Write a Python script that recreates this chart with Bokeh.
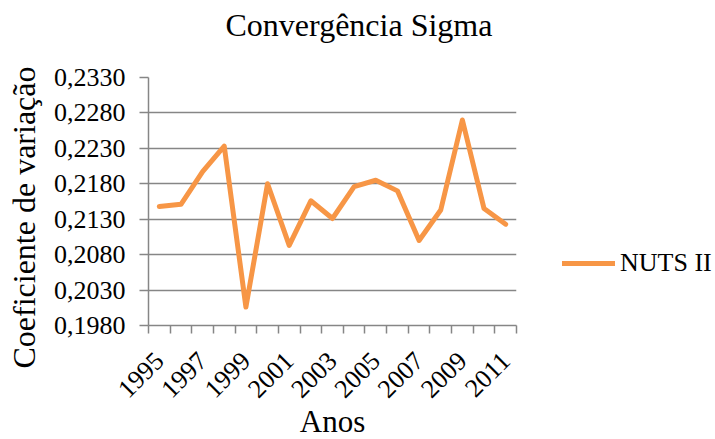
from bokeh.plotting import figure
from bokeh.models import (Range1d, FixedTicker, CustomJSTickFormatter, Legend, LegendItem, Title)
from bokeh.embed import file_html
from bokeh.resources import INLINE
import math

# ---- data ----
years = [1995, 1996, 1997, 1998, 1999, 2000, 2001, 2002, 2003,
         2004, 2005, 2006, 2007, 2008, 2009, 2010, 2011]
nuts2 = [0.2148, 0.2151, 0.2197, 0.2233, 0.2006, 0.2180, 0.2093, 0.2156, 0.2131,
         0.2176, 0.2185, 0.2170, 0.2100, 0.2143, 0.2270, 0.2145, 0.2123]
y_ticks = [0.1980, 0.2030, 0.2080, 0.2130, 0.2180, 0.2230, 0.2280, 0.2330]
x_label_years = [y for y in years if y % 2 == 1]
title_text = "Convergência Sigma"
y_title = "Coeficiente de variação"
x_title = "Anos"
series_name = "NUTS II"

FONT = "Liberation Serif"
GRAY = "#868686"
ORANGE = "#F79646"

p = figure(frame_width=368, frame_height=248,
           min_border_left=148, min_border_right=199,
           min_border_top=77, min_border_bottom=114,
           x_range=Range1d(years[0] - 0.5, years[-1] + 0.5),
           y_range=Range1d(y_ticks[0], y_ticks[-1]),
           output_backend="svg", toolbar_location=None,
           background_fill_color="white", border_fill_color="white",
           title=None)
p.outline_line_color = None

xa = p.below[0]
ya = p.left[0]

# invisible spacer next to the frame, then the title itself (outermost)
p.add_layout(Title(text="\u200b", text_font=FONT, text_font_size="2px",
                   standoff=31, text_color="white"), "above")
p.add_layout(Title(text=title_text, align="left", offset=77,
                   vertical_align="bottom", standoff=0,
                   text_font=FONT, text_font_size="32px",
                   text_font_style="normal", text_color="black"), "above")

# x axis: tick marks at category boundaries (minor), labels at odd years (major)
boundaries = [y - 0.5 for y in years] + [years[-1] + 0.5]
xa.ticker = FixedTicker(ticks=x_label_years, minor_ticks=boundaries)
xa.major_label_overrides = {y: str(y) for y in x_label_years}
xa.major_tick_out = 0
xa.major_tick_in = 0
xa.minor_tick_out = 8
xa.minor_tick_in = 0
xa.minor_tick_line_color = GRAY
xa.minor_tick_line_width = 1.5
xa.axis_line_color = GRAY
xa.axis_line_width = 1.5
xa.major_label_orientation = math.pi / 4
xa.major_label_standoff = 23
xa.major_label_text_font = FONT
xa.major_label_text_font_size = "26px"
xa.major_label_text_color = "black"
xa.axis_label = x_title
xa.axis_label_standoff = -4
xa.axis_label_text_font = FONT
xa.axis_label_text_font_size = "31px"
xa.axis_label_text_font_style = "normal"
xa.axis_label_text_color = "black"

ya.ticker = FixedTicker(ticks=y_ticks, minor_ticks=[])
ya.formatter = CustomJSTickFormatter(code="return tick.toFixed(4).replace('.', ',');")
ya.major_tick_out = 9
ya.major_tick_in = 0
ya.major_tick_line_color = GRAY
ya.major_tick_line_width = 1.5
ya.minor_tick_line_color = None
ya.axis_line_color = GRAY
ya.axis_line_width = 1.5
ya.major_label_standoff = 14
ya.major_label_text_font = FONT
ya.major_label_text_font_size = "26px"
ya.major_label_text_color = "black"
# trailing no-break spaces shift the centred label down, as in the reference
ya.axis_label = y_title + "\u00a0" * 4
ya.axis_label_standoff = 9
ya.axis_label_text_font = FONT
ya.axis_label_text_font_size = "32px"
ya.axis_label_text_font_style = "normal"
ya.axis_label_text_color = "black"

p.xgrid.grid_line_color = None
p.ygrid.grid_line_color = GRAY
p.ygrid.grid_line_width = 1.5

r = p.line(years, nuts2, line_color=ORANGE, line_width=5,
           line_join="round", line_cap="round")

legend = Legend(items=[LegendItem(label=series_name, renderers=[r])],
                location=(46, 47), glyph_width=53, label_standoff=5,
                padding=0, margin=0, spacing=0,
                border_line_color=None, background_fill_alpha=0)
legend.label_text_font = FONT
legend.label_text_font_size = "26px"
legend.label_text_color = "black"
p.add_layout(legend, "right")

open("out.html", "w").write(file_html(p, INLINE))
